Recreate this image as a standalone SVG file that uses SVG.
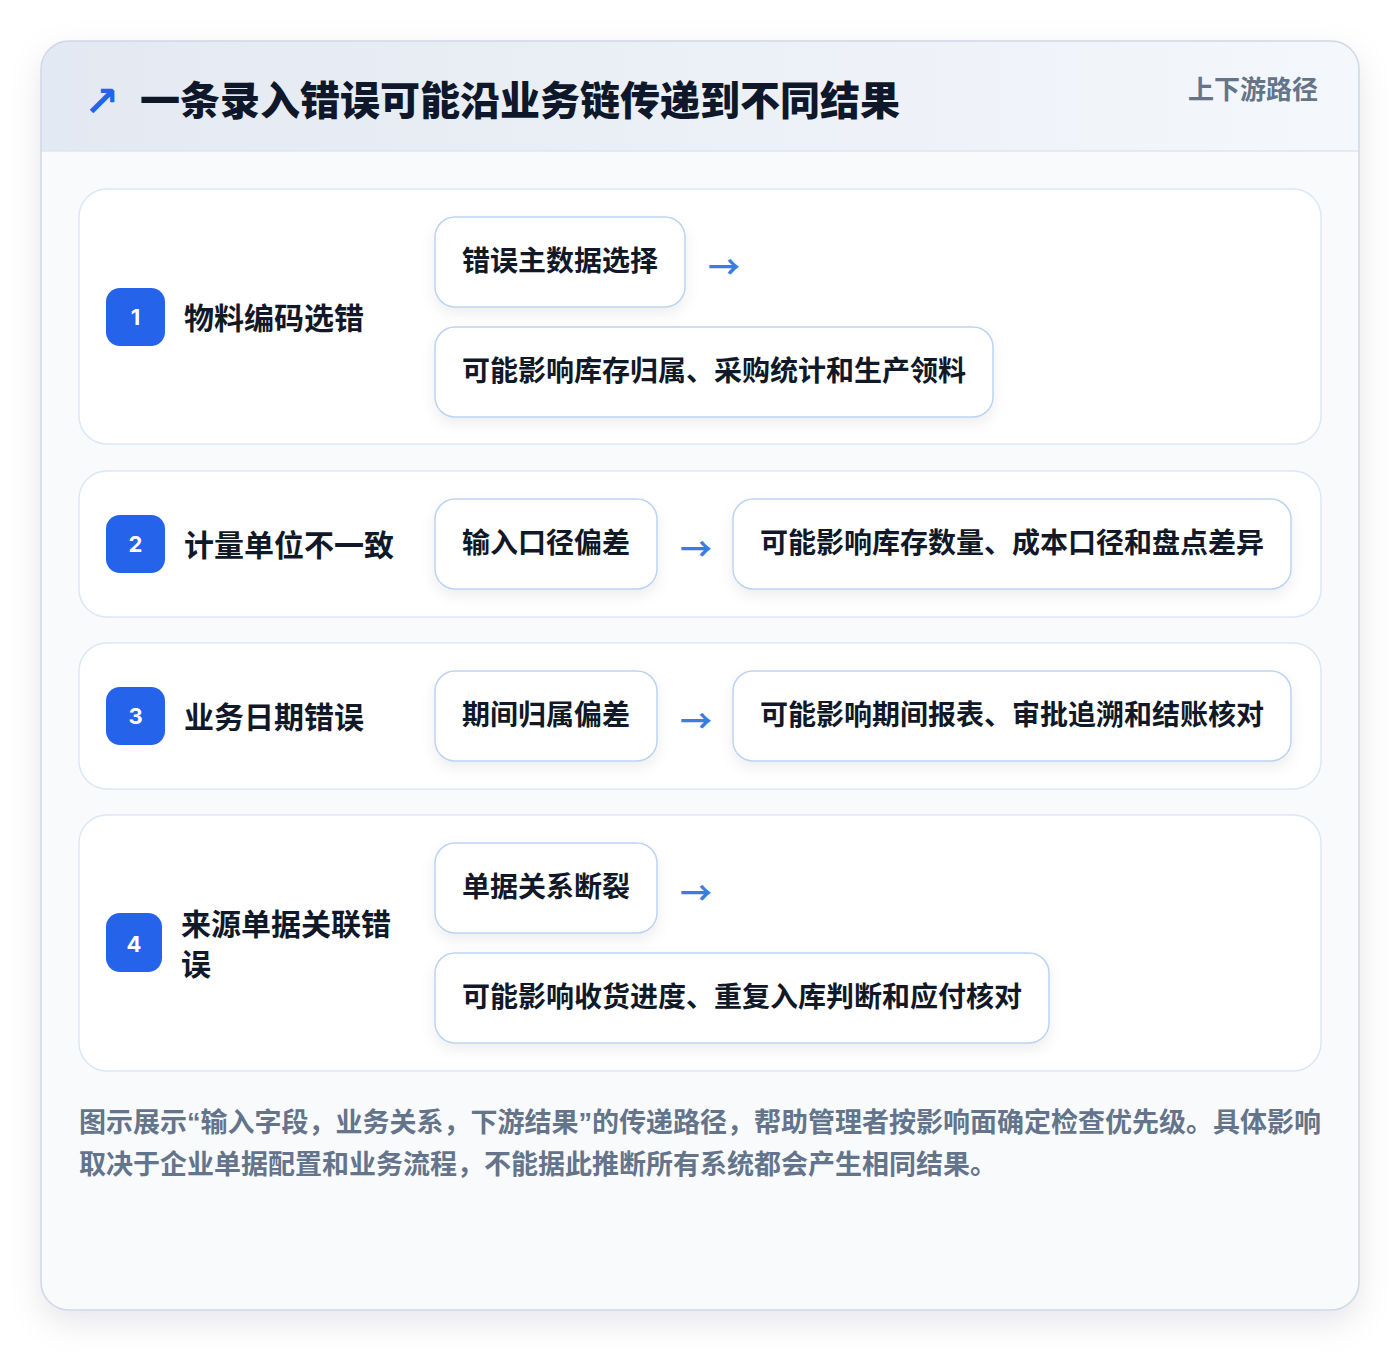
<svg xmlns="http://www.w3.org/2000/svg" width="1400" height="1352" viewBox="0 0 1400 1352">
<defs>
  <linearGradient id="hdr" x1="0" y1="0" x2="1" y2="0">
    <stop offset="0" stop-color="#e3e9f2"/>
    <stop offset="1" stop-color="#f4f7fb"/>
  </linearGradient>
  <clipPath id="cardClip"><rect x="41" y="41" width="1318" height="1269" rx="28"/></clipPath>
  <filter id="cardShadow" x="-10%" y="-10%" width="120%" height="120%">
    <feDropShadow dx="0" dy="12" stdDeviation="16" flood-color="#0f172a" flood-opacity="0.10"/>
  </filter>
  <filter id="boxShadow" x="-20%" y="-30%" width="140%" height="180%">
    <feDropShadow dx="0" dy="6" stdDeviation="7" flood-color="#0f172a" flood-opacity="0.07"/>
  </filter>
</defs>
<style>
  .row{fill:#ffffff;stroke:#dbe7f7;stroke-width:1.5}
  .box{fill:#ffffff;stroke:#bcd4f2;stroke-width:1.5;filter:url(#boxShadow)}
  .badge{fill:#2563eb}
  .num{font-family:Inter,"Liberation Sans",sans-serif;font-weight:700;font-size:22px;fill:#ffffff;text-anchor:middle}
  .lbl{font-family:"Noto Sans CJK SC",sans-serif;font-weight:700;font-size:30px;fill:#111827}
  .bt{font-family:"Noto Sans CJK SC",sans-serif;font-weight:700;font-size:28px;fill:#111827}
  .arr{font-family:"Noto Sans CJK SC",sans-serif;font-weight:700;font-size:32px;fill:#3b7ce0}
  .foot{font-family:"Noto Sans CJK SC",sans-serif;font-weight:700;font-size:27px;fill:#64748b}
  .q{font-family:"Liberation Sans",sans-serif}
</style>
<rect x="0" y="0" width="1400" height="1352" fill="#ffffff"/>
<g id="card">
  <rect x="41" y="41" width="1318" height="1269" rx="28" fill="#f8fafc" filter="url(#cardShadow)"/>
  <g clip-path="url(#cardClip)">
    <rect x="41" y="41" width="1318" height="110" fill="url(#hdr)"/>
    <line x1="41" y1="151" x2="1359" y2="151" stroke="#dbe6f5" stroke-width="1.5"/>
  </g>
  <rect x="41" y="41" width="1318" height="1269" rx="28" fill="none" stroke="#cfd8e6" stroke-width="1.5"/>
</g>
<g id="header">
  <text x="84" y="116" font-family="DejaVu Sans,sans-serif" font-weight="700" font-size="42" fill="#2563eb">↗</text>
  <text x="140" y="115" font-family="Noto Sans CJK SC,sans-serif" font-weight="900" font-size="40" fill="#0f172a">一条录入错误可能沿业务链传递到不同结果</text>
  <text x="1318" y="99" text-anchor="end" font-family="Noto Sans CJK SC,sans-serif" font-weight="700" font-size="26" fill="#64748b">上下游路径</text>
</g>

<g id="row1">
  <rect class="row" x="79" y="189" width="1242" height="255" rx="28"/>
  <rect class="badge" x="106" y="288" width="59" height="58" rx="14"/>
  <text class="num" x="135.5" y="325">1</text>
  <text class="lbl" x="184" y="329">物料编码选错</text>
</g>
<g id="row1-cause">
  <rect class="box" x="435" y="217" width="250" height="90" rx="20"/>
  <text class="bt" x="462" y="271">错误主数据选择</text>
</g>
<g id="row1-effect">
  <rect class="box" x="435" y="327" width="558" height="90" rx="20"/>
  <text class="bt" x="462" y="381">可能影响库存归属、采购统计和生产领料</text>
</g>

<g id="row2">
  <rect class="row" x="79" y="471" width="1242" height="146" rx="28"/>
  <rect class="badge" x="106" y="515" width="59" height="58" rx="14"/>
  <text class="num" x="135.5" y="552">2</text>
  <text class="lbl" x="184" y="556">计量单位不一致</text>
</g>
<g id="row2-cause">
  <rect class="box" x="435" y="499" width="222" height="90" rx="20"/>
  <text class="bt" x="462" y="553">输入口径偏差</text>
</g>
<g id="row2-effect">
  <rect class="box" x="733" y="499" width="558" height="90" rx="20"/>
  <text class="bt" x="760" y="553">可能影响库存数量、成本口径和盘点差异</text>
</g>

<g id="row3">
  <rect class="row" x="79" y="643" width="1242" height="146" rx="28"/>
  <rect class="badge" x="106" y="687" width="59" height="58" rx="14"/>
  <text class="num" x="135.5" y="724">3</text>
  <text class="lbl" x="184" y="728">业务日期错误</text>
</g>
<g id="row3-cause">
  <rect class="box" x="435" y="671" width="222" height="90" rx="20"/>
  <text class="bt" x="462" y="725">期间归属偏差</text>
</g>
<g id="row3-effect">
  <rect class="box" x="733" y="671" width="558" height="90" rx="20"/>
  <text class="bt" x="760" y="725">可能影响期间报表、审批追溯和结账核对</text>
</g>

<g id="row4">
  <rect class="row" x="79" y="815" width="1242" height="256" rx="28"/>
  <rect class="badge" x="106" y="913" width="56" height="59" rx="14"/>
  <text class="num" x="134" y="952">4</text>
  <text class="lbl" x="181" y="935">来源单据关联错</text>
  <text class="lbl" x="181" y="975">误</text>
</g>
<g id="row4-cause">
  <rect class="box" x="435" y="843" width="222" height="90" rx="20"/>
  <text class="bt" x="462" y="897">单据关系断裂</text>
</g>
<g id="row4-effect">
  <rect class="box" x="435" y="953" width="614" height="90" rx="20"/>
  <text class="bt" x="462" y="1007">可能影响收货进度、重复入库判断和应付核对</text>
</g>

<g id="connectors">
  <text class="arr" x="708" y="279">→</text>
  <text class="arr" x="680" y="561">→</text>
  <text class="arr" x="680" y="733">→</text>
  <text class="arr" x="680" y="905">→</text>
</g>

<g id="footnote">
  <text class="foot" x="79" y="1132">图示展示<tspan class="q">“</tspan>输入字段，业务关系，下游结果<tspan class="q">”</tspan>的传递路径，帮助管理者按影响面确定检查优先级。具体影响</text>
  <text class="foot" x="79" y="1174">取决于企业单据配置和业务流程，不能据此推断所有系统都会产生相同结果。</text>
</g>
</svg>
